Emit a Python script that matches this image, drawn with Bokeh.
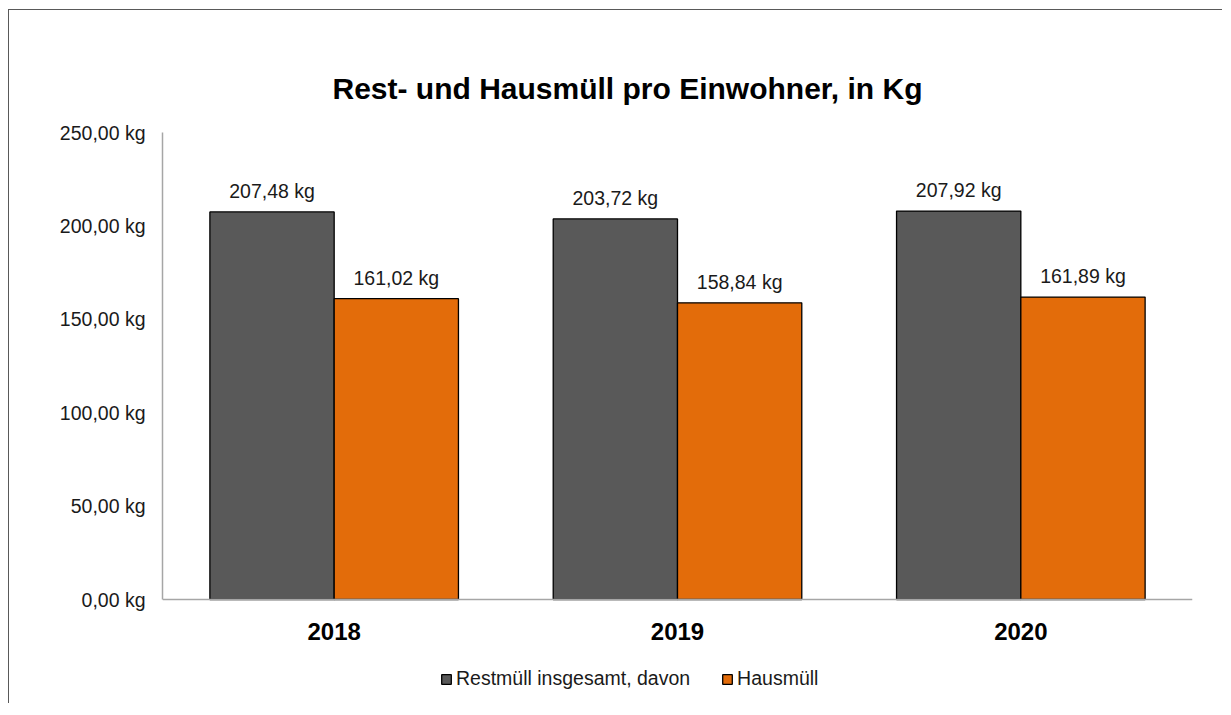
from bokeh.plotting import figure
from bokeh.models import (ColumnDataSource, FactorRange, Range1d, FixedTicker,
                          Legend, LegendItem, Title)
from bokeh.transform import dodge
from bokeh.embed import file_html
from bokeh.resources import INLINE
from bokeh.core.properties import value

# ---- data ----
years = ["2018", "2019", "2020"]
restmuell = [207.48, 203.72, 207.92]
hausmuell = [161.02, 158.84, 161.89]
series_names = ["Restmüll insgesamt, davon", "Hausmüll"]
y_ticks = [0, 50, 100, 150, 200, 250]
y_tick_labels = ["0,00 kg", "50,00 kg", "100,00 kg", "150,00 kg", "200,00 kg", "250,00 kg"]
title_text = "Rest- und Hausmüll pro Einwohner, in Kg"

colors = ["#595959", "#E36C0A"]
FONT = "Liberation Sans"

# layout geometry (pixels)
PLOT_H = 467          # height of the 0..250 value area
EXTRA_BELOW = 104     # room below the zero line for year labels and legend
Y_MAX = y_ticks[-1]
y_start = -EXTRA_BELOW * Y_MAX / PLOT_H


def fmt(v):
    return f"{v:.2f}".replace(".", ",") + " kg"


src = ColumnDataSource(dict(
    year=years,
    rest=restmuell,
    haus=hausmuell,
    rest_lbl=[fmt(v) for v in restmuell],
    haus_lbl=[fmt(v) for v in hausmuell],
))

p = figure(
    x_range=FactorRange(*years, range_padding=0),
    y_range=Range1d(y_start, Y_MAX),
    frame_width=1030, frame_height=PLOT_H + EXTRA_BELOW,
    min_border_left=153, min_border_right=30,
    min_border_top=122, min_border_bottom=0,
    output_backend="svg", toolbar_location=None,
)
p.styles = {"margin-left": "8px", "margin-top": "9px",
            "border-left": "1.5px solid #595959", "border-top": "1.5px solid #595959"}

bw = 0.362
off = 0.181
r1 = p.vbar(x=dodge("year", -off, range=p.x_range), top="rest", bottom=0, width=bw,
            fill_color=colors[0], line_color="black", line_width=1.3, source=src)
r2 = p.vbar(x=dodge("year", off, range=p.x_range), top="haus", bottom=0, width=bw,
            fill_color=colors[1], line_color="black", line_width=1.3, source=src)

for col, lbl, o in (("rest", "rest_lbl", -off), ("haus", "haus_lbl", off)):
    p.text(x=dodge("year", o, range=p.x_range), y=col, text=lbl, source=src,
           text_align="center", text_baseline="alphabetic", y_offset=-21,
           text_font=value(FONT), text_font_size="19.5px", text_color="#1a1a1a")

# axes
p.xgrid.grid_line_color = None
p.ygrid.grid_line_color = None
p.outline_line_color = None

xa = p.xaxis[0]
xa.fixed_location = 0
xa.axis_line_color = "#A6A6A6"
xa.axis_line_width = 1.5
xa.major_tick_line_color = None
xa.minor_tick_line_color = None
xa.major_label_text_font = FONT
xa.major_label_text_font_size = "24px"
xa.major_label_text_font_style = "bold"
xa.major_label_text_color = "#000000"
xa.major_label_standoff = 17

ya = p.yaxis[0]
ya.ticker = FixedTicker(ticks=y_ticks)
ya.bounds = (0, Y_MAX)
ya.major_label_overrides = {t: l for t, l in zip(y_ticks, y_tick_labels)}
ya.axis_line_color = "#A6A6A6"
ya.axis_line_width = 1.5
ya.major_tick_line_color = None
ya.minor_tick_line_color = None
ya.major_label_text_font = FONT
ya.major_label_text_font_size = "19.5px"
ya.major_label_text_color = "#1a1a1a"
ya.major_label_standoff = 11

# title
p.add_layout(Title(text=title_text, align="left", offset=170,
                   text_font=FONT, text_font_size="30px", text_font_style="bold",
                   text_color="#000000", standoff=55), "above")

# legend (inside the frame, below the zero line)
legend = Legend(
    items=[LegendItem(label=series_names[0], renderers=[r1]),
           LegendItem(label=series_names[1], renderers=[r2])],
    orientation="horizontal", location=(278, 13),
    glyph_width=12, glyph_height=12, label_standoff=4, spacing=31,
    padding=0, margin=0, border_line_color=None, background_fill_alpha=0,
    label_text_font=FONT, label_text_font_size="19.5px", label_text_color="#1a1a1a",
)
p.add_layout(legend, "center")

open("out.html", "w").write(file_html(p, INLINE))
